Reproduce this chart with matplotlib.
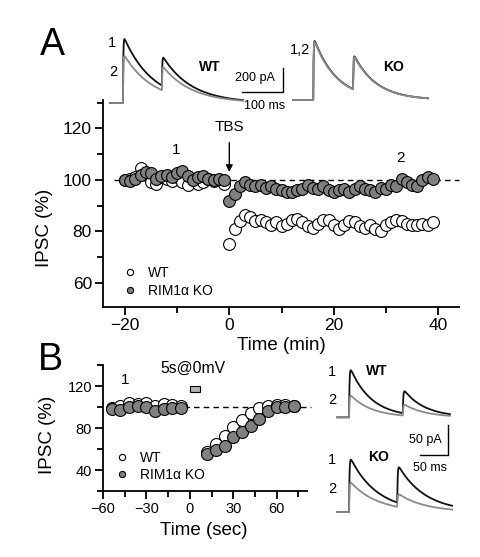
import numpy as np
import matplotlib
matplotlib.use('Agg')
import matplotlib.pyplot as plt
from matplotlib.ticker import MultipleLocator
from matplotlib.lines import Line2D
from matplotlib.patches import Rectangle

plt.rcParams['font.family'] = ['Liberation Sans', 'DejaVu Sans']

# ---- panel A: IPSC after TBS (min) ----
time_a = list(range(-20, 0)) + list(range(0, 40))
wt_a = [100, 100.5, 101, 104.5, 102, 99, 98.5, 101, 100.5, 99.5,
        101, 99, 98, 100, 98.5, 99, 100.5, 99.5, 100, 98.5,
        75, 81, 84, 86.5, 85.5, 84, 84.5, 83.5, 82.5, 83.5,
        82, 83, 84.5, 85, 83.5, 82, 81.5, 83, 84.5, 84.5,
        82.5, 81, 82.5, 84, 83.5, 82, 81.5, 82.5, 81, 80,
        82.5, 83.5, 84.5, 84, 83, 82.5, 82.5, 83, 82.5, 83.5]
ko_a = [100, 99.5, 100.5, 102, 103, 102.5, 100.5, 101.5, 102, 101,
        102.5, 103.5, 101.5, 100, 101, 101.5, 100.5, 100, 100.5, 100,
        92, 94.5, 97.5, 99, 98, 97.5, 98, 97, 97.5, 96.5,
        96, 95.5, 95.5, 96, 96.5, 98, 97, 96.5, 97.5, 96,
        95.5, 96, 96.5, 95.5, 96.5, 97.5, 96.5, 96, 95.5, 97,
        96.5, 98, 97.5, 100.5, 99, 98, 97.5, 100, 101, 100.5]

# ---- panel B: IPSC after depolarisation (sec) ----
time_b = [-54, -48, -42, -36, -30, -24, -18, -12, -6,
          12, 18, 24, 30, 36, 42, 48, 54, 60, 66, 72]
wt_b = [99, 101, 104, 103, 104, 101, 103, 102, 101,
        57, 65, 72, 81, 88, 94, 99, 101, 102, 102, 101]
ko_b = [98, 97, 100, 101, 100, 96, 98, 99, 99,
        55, 59, 63, 71, 76, 82, 89, 96, 100, 100, 101]

# ---- example traces: stimulus times (ms), peak increments (pA), decay tau (ms) ----
wt_a_stims = [0, 95]
wt_a_amp1 = [567, 254]
wt_a_amp2 = [417, 208]
ko_a_stims = [464, 561]
ko_a_amp1 = [530, 300]
ko_a_amp2 = [520, 295]
wt_b_stims = [0, 96]
wt_b_amp1 = [87, 41]
wt_b_amp2 = [40, 20]
ko_b_stims = [0, 86]
ko_b_amp1 = [95, 65]
ko_b_amp2 = [53, 23]

W, H = 480, 557
fig = plt.figure(figsize=(W / 100, H / 100), dpi=100)


def px_axes(x0, y0, x1, y1):
    return fig.add_axes([x0 / W, 1 - y1 / H, (x1 - x0) / W, (y1 - y0) / H])


def trace(t, stims, amps, tau, base=0.0):
    y = np.full_like(t, base)
    for ts, a in zip(stims, amps):
        dt = t - ts
        m = dt >= 0
        y[m] += a * (1 - np.exp(-dt[m] / 0.8)) * np.exp(-dt[m] / tau)
    return y


def style(ax, fs):
    for s in ('top', 'right'):
        ax.spines[s].set_visible(False)
    for s in ('left', 'bottom'):
        ax.spines[s].set_linewidth(1.3)
    ax.tick_params(which='major', direction='out', length=6, width=1.3, labelsize=fs, pad=2)
    ax.tick_params(which='minor', direction='out', length=4, width=1.3)


wt_kw = dict(ls='none', marker='o', mfc='white', mec='k', mew=0.8)
ko_kw = dict(ls='none', marker='o', mfc='#808080', mec='k', mew=0.8)

# ================= panel A =================
axA = px_axes(103, 100, 459, 307)
axA.set_xlim(-24.2, 44)
axA.set_ylim(50.7, 131)
style(axA, 12.5)
axA.xaxis.set_major_locator(MultipleLocator(20))
axA.xaxis.set_minor_locator(MultipleLocator(10))
axA.yaxis.set_major_locator(MultipleLocator(20))
axA.yaxis.set_minor_locator(MultipleLocator(10))
axA.plot([-22, 44], [100, 100], ls=(0, (4, 3)), color='k', lw=1, zorder=1, clip_on=False)
axA.plot(time_a, wt_a, ms=8.5, zorder=3, **wt_kw)
axA.plot(time_a, ko_a, ms=8.5, zorder=4, **ko_kw)
axA.text(0, 120.5, 'TBS', ha='center', va='center', fontsize=11)
axA.annotate('', xy=(0, 102), xytext=(0, 115.5),
             arrowprops=dict(arrowstyle='-|>', color='k', lw=1, mutation_scale=10))
axA.text(-10.2, 111.7, '1', ha='center', va='center', fontsize=11)
axA.text(32.7, 108.5, '2', ha='center', va='center', fontsize=11)
axA.set_xlabel('Time (min)', fontsize=13.5)
axA.xaxis.set_label_coords(0.5, -0.184)
axA.xaxis.label.set_va('center')
axA.set_ylabel('IPSC (%)', fontsize=13.5)
axA.yaxis.set_label_coords(-0.163, 0.382)
axA.yaxis.label.set_va('center')
hA = [Line2D([], [], ms=4.5, **wt_kw), Line2D([], [], ms=4.5, **ko_kw)]
axA.legend(hA, ['WT', 'RIM1\u03b1 KO'], loc='lower left', bbox_to_anchor=(0.06, 0.043),
           frameon=False, fontsize=10, handlelength=0.8, handletextpad=0.9,
           labelspacing=0.3, borderpad=0, borderaxespad=0)
fig.text(52 / W, 1 - 45 / H, 'A', fontsize=27, ha='center', va='center')

# traces A
trA = px_axes(100, 25, 440, 115)
trA.set_xlim(-56, 773)
trA.set_ylim(-100, 650)
trA.axis('off')
t1 = np.linspace(-32, 293, 800)
trA.plot(t1, trace(t1, wt_a_stims, wt_a_amp1, 70), color='#111111', lw=1.3)
trA.plot(t1, trace(t1, wt_a_stims, wt_a_amp2, 70), color='#8a8a8a', lw=1.3)
t2 = np.linspace(415, 744, 800)
trA.plot(t2, trace(t2, ko_a_stims, ko_a_amp1, 55, 25), color='#111111', lw=1.3)
trA.plot(t2, trace(t2, ko_a_stims, ko_a_amp2, 55, 25), color='#8a8a8a', lw=1.3)
trA.plot([290, 390, 390], [92, 92, 292], color='k', lw=1)
trA.text(322, 208, '200 pA', ha='center', va='center', fontsize=9)
trA.text(346, -25, '100 ms', ha='center', va='center', fontsize=9)
trA.text(-27, 500, '1', ha='center', va='center', fontsize=10.5)
trA.text(-24, 258, '2', ha='center', va='center', fontsize=10.5)
trA.text(212, 300, 'WT', ha='center', va='center', fontsize=10, fontweight='bold')
trA.text(432, 442, '1,2', ha='center', va='center', fontsize=10.5)
trA.text(659, 300, 'KO', ha='center', va='center', fontsize=10, fontweight='bold')

# ================= panel B =================
axB = px_axes(103, 365, 307, 491)
axB.set_xlim(-60, 81)
axB.set_ylim(20, 140)
style(axB, 10.5)
axB.xaxis.set_major_locator(MultipleLocator(30))
axB.xaxis.set_minor_locator(MultipleLocator(15))
axB.yaxis.set_major_locator(MultipleLocator(40))
axB.yaxis.set_minor_locator(MultipleLocator(20))
axB.plot([-58, 84], [100, 100], ls=(0, (4, 3)), color='k', lw=1, zorder=1, clip_on=False)
axB.plot(time_b, wt_b, ms=8.6, zorder=3, **wt_kw)
axB.plot(time_b, ko_b, ms=8.6, zorder=4, **ko_kw)
axB.add_patch(Rectangle((0, 114.3), 7, 5.7, fc='#b3b3b3', ec='k', lw=0.8))
axB.text(2, 137, '5s@0mV', ha='center', va='center', fontsize=11.3)
axB.text(-45, 126, '1', ha='center', va='center', fontsize=11)
axB.set_xlabel('Time (sec)', fontsize=13.5)
axB.xaxis.set_label_coords(0.495, -0.31)
axB.xaxis.label.set_va('center')
axB.set_ylabel('IPSC (%)', fontsize=13.5)
axB.yaxis.set_label_coords(-0.27, 0.444)
axB.yaxis.label.set_va('center')
hB = [Line2D([], [], ms=4.5, **wt_kw), Line2D([], [], ms=4.5, **ko_kw)]
axB.legend(hB, ['WT', 'RIM1\u03b1 KO'], loc='lower left', bbox_to_anchor=(0.066, 0.071),
           frameon=False, fontsize=10, handlelength=0.8, handletextpad=0.9,
           labelspacing=0.25, borderpad=0, borderaxespad=0)
fig.text(50 / W, 1 - 360 / H, 'B', fontsize=27, ha='center', va='center')

# traces B
trB = px_axes(330, 355, 465, 520)
trB.set_xlim(-34, 207)
trB.set_ylim(-13.3, 262)
trB.axis('off')
t3 = np.linspace(-21, 180, 600)
trB.plot(t3, trace(t3, wt_b_stims, wt_b_amp1, 38, 158), color='#111111', lw=1.3)
trB.plot(t3, trace(t3, wt_b_stims, wt_b_amp2, 38, 158), color='#8a8a8a', lw=1.3)
t4 = np.linspace(-21, 184, 600)
trB.plot(t4, trace(t4, ko_b_stims, ko_b_amp1, 48), color='#111111', lw=1.3)
trB.plot(t4, trace(t4, ko_b_stims, ko_b_amp2, 48), color='#8a8a8a', lw=1.3)
trB.plot([127, 177, 177], [95, 95, 145], color='k', lw=1)
trB.text(136, 120, '50 pA', ha='center', va='center', fontsize=9)
trB.text(145, 73, '50 ms', ha='center', va='center', fontsize=9)
trB.text(-30, 233, '1', ha='center', va='center', fontsize=10.5)
trB.text(-30, 187, '2', ha='center', va='center', fontsize=10.5)
trB.text(50, 235, 'WT', ha='center', va='center', fontsize=10, fontweight='bold')
trB.text(-30, 87, '1', ha='center', va='center', fontsize=10.5)
trB.text(-30, 38, '2', ha='center', va='center', fontsize=10.5)
trB.text(52, 92, 'KO', ha='center', va='center', fontsize=10, fontweight='bold')

fig.savefig('out.png', dpi=100)
